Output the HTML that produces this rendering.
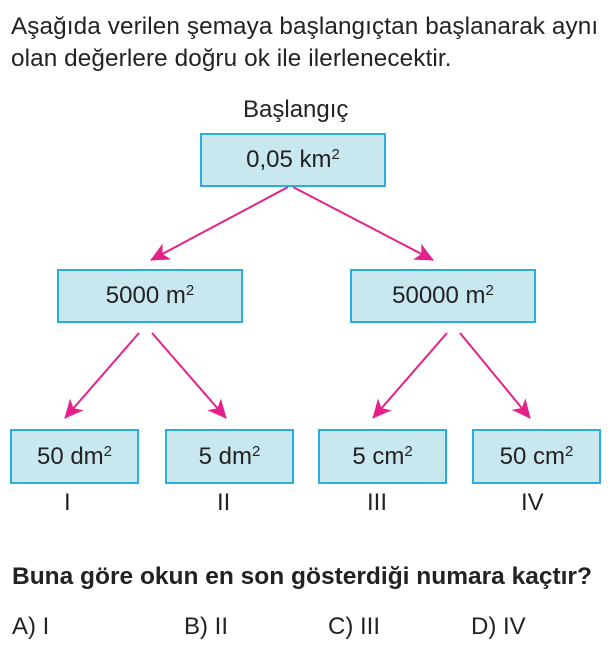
<!DOCTYPE html>
<html><head><style>
body{margin:0;width:611px;height:658px;background:#fff;font-family:"Liberation Sans",sans-serif;color:#222;position:relative;overflow:hidden}
.t{position:absolute;white-space:nowrap;font-size:24px}
.b{position:absolute;background:#c9e7ef;border:2px solid #2aaee0;box-sizing:border-box;font-size:24px;text-align:center}
sup{font-size:15px;vertical-align:top;position:relative;top:-5px}
</style></head><body>
<div class="t" style="left:11px;top:13px;font-size:24.3px;letter-spacing:0.1px">Aşağıda verilen şemaya başlangıçtan başlanarak aynı</div>
<div class="t" style="left:11px;top:45px;font-size:24.3px;letter-spacing:0.1px">olan değerlere doğru ok ile ilerlenecektir.</div>
<div class="t" style="left:243px;top:96px">Başlangıç</div>
<div class="b" style="left:200px;top:133px;width:186px;height:54px;line-height:50px">0,05 km<sup>2</sup></div>
<div class="b" style="left:57px;top:269px;width:186px;height:54px;line-height:50px">5000 m<sup>2</sup></div>
<div class="b" style="left:350px;top:269px;width:186px;height:54px;line-height:50px">50000 m<sup>2</sup></div>
<div class="b" style="left:10px;top:429px;width:129px;height:55px;line-height:52px">50 dm<sup>2</sup></div>
<div class="b" style="left:165px;top:429px;width:129px;height:55px;line-height:52px">5 dm<sup>2</sup></div>
<div class="b" style="left:318px;top:429px;width:129px;height:55px;line-height:52px">5 cm<sup>2</sup></div>
<div class="b" style="left:472px;top:429px;width:129px;height:55px;line-height:52px">50 cm<sup>2</sup></div>
<div class="t" style="left:64px;top:489px">I</div>
<div class="t" style="left:217px;top:489px">II</div>
<div class="t" style="left:367px;top:489px">III</div>
<div class="t" style="left:521px;top:489px">IV</div>
<svg style="position:absolute;left:0;top:0" width="611" height="658">
<defs><marker id="a" markerWidth="20" markerHeight="18" refX="18" refY="9" orient="auto" markerUnits="userSpaceOnUse"><path d="M0,0 L19,9 L0,18 L5,9Z" fill="#e6208a"/></marker></defs>
<g stroke="#e6208a" stroke-width="2" marker-end="url(#a)">
<line x1="288" y1="187" x2="151" y2="260"/>
<line x1="293" y1="187" x2="433" y2="260"/>
<line x1="139" y1="333" x2="65" y2="418"/>
<line x1="152" y1="333" x2="226" y2="418"/>
<line x1="447" y1="333" x2="373" y2="418"/>
<line x1="460" y1="333" x2="530" y2="418"/>
</g></svg>
<div class="t" style="left:12px;top:563px;font-weight:bold;font-size:24.5px">Buna göre okun en son gösterdiği numara kaçtır?</div>
<div class="t" style="left:12px;top:613px">A) I</div>
<div class="t" style="left:184px;top:613px">B) II</div>
<div class="t" style="left:328px;top:613px">C) III</div>
<div class="t" style="left:471px;top:613px">D) IV</div>
</body></html>
